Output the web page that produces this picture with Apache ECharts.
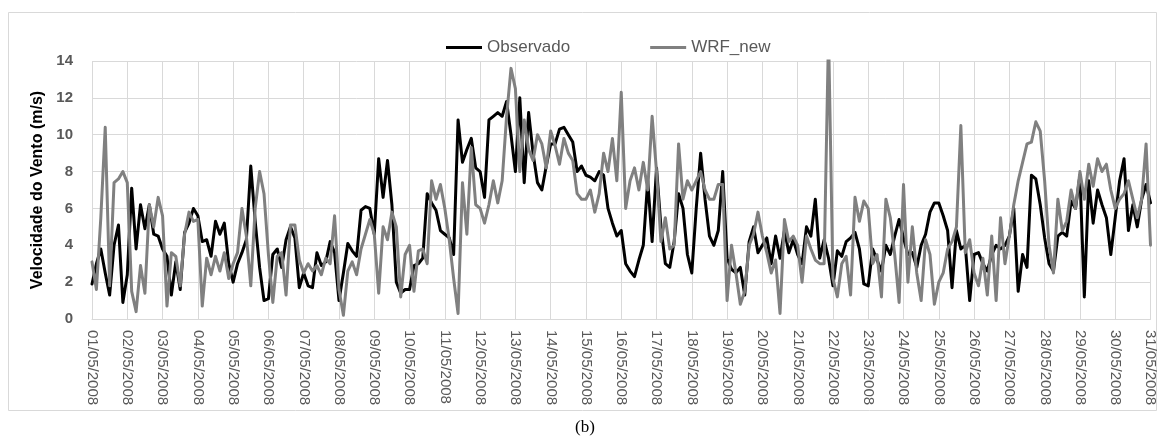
<!DOCTYPE html>
<html>
<head>
<meta charset="utf-8">
<script src="https://cdn.jsdelivr.net/npm/echarts@6/dist/echarts.min.js"></script>
</head>
<body style="margin:0">
<div id="container" style="width:1158px;height:443px"></div>
<script>
// tick labels (one per day)
var days = ['01/05/2008','02/05/2008','03/05/2008','04/05/2008','05/05/2008','06/05/2008','07/05/2008','08/05/2008',
  '09/05/2008','10/05/2008','11/05/2008','12/05/2008','13/05/2008','14/05/2008','15/05/2008','16/05/2008',
  '17/05/2008','18/05/2008','19/05/2008','20/05/2008','21/05/2008','22/05/2008','23/05/2008','24/05/2008',
  '25/05/2008','26/05/2008','27/05/2008','28/05/2008','29/05/2008','30/05/2008','31/05/2008'];
var hours = ['00:00','03:00','06:00','09:00','12:00','15:00','18:00','21:00'];

// wind speed (m/s), every 3 hours
var observado = [
  1.9, 3.0, 3.8, 2.5, 1.3, 4.0, 5.1, 0.9,
  2.4, 7.1, 3.8, 6.2, 4.9, 6.2, 4.6, 4.5,
  3.8, 3.4, 1.3, 3.1, 1.6, 4.7, 5.2, 6.0,
  5.6, 4.2, 4.3, 3.4, 5.3, 4.6, 5.2, 3.0,
  2.0, 3.0, 3.6, 4.3, 8.3, 5.3, 2.8, 1.0,
  1.1, 3.5, 3.8, 2.8, 4.3, 5.0, 4.4, 1.7,
  2.5, 1.8, 1.7, 3.6, 2.9, 3.1, 4.2, 3.6,
  1.0, 2.5, 4.1, 3.7, 3.4, 5.9, 6.1, 6.0,
  4.6, 8.7, 6.6, 8.6, 6.2, 2.0, 1.4, 1.6,
  1.6, 2.9, 3.0, 3.3, 6.8, 6.3, 5.9, 4.8,
  4.6, 4.4, 3.5, 10.8, 8.5, 9.2, 9.8, 8.2,
  8.0, 6.6, 10.8, 11.0, 11.2, 11.0, 11.8, 10.0,
  8.0, 12.0, 7.4, 11.2, 9.0, 7.4, 7.0, 8.3,
  9.5, 9.5, 10.3, 10.4, 10.0, 9.6, 8.0, 8.3,
  7.8, 7.7, 7.5, 8.0, 7.8, 6.0, 5.2, 4.5,
  4.8, 3.0, 2.6, 2.3, 3.2, 4.0, 7.5, 4.2,
  8.2, 5.0, 3.0, 2.8, 4.2, 6.8, 6.0, 3.5,
  2.5, 6.0, 9.0, 6.5, 4.5, 4.0, 4.8, 8.0,
  3.3, 2.7, 2.5, 2.8, 1.3, 4.2, 5.0, 3.6,
  4.0, 4.4, 3.0, 4.5, 3.3, 4.8, 3.6, 4.3,
  3.5, 3.0, 5.0, 4.5, 6.5, 3.3, 4.3, 3.3,
  1.8, 3.7, 3.4, 4.2, 4.4, 4.7, 3.8, 1.9,
  1.8, 3.8, 3.2, 2.6, 4.0, 3.5, 4.5, 5.4,
  4.4, 3.5, 3.6, 2.8, 4.0, 4.6, 5.8, 6.3,
  6.3, 5.6, 4.8, 1.7, 4.8, 3.8, 4.0, 1.0,
  3.5, 3.6, 3.0, 2.6, 3.5, 4.0, 3.8, 4.0,
  4.5, 6.0, 1.5, 3.5, 2.8, 7.8, 7.6, 6.2,
  4.4, 3.0, 2.6, 4.5, 4.7, 4.5, 6.4, 6.0,
  7.8, 1.2, 7.5, 5.2, 7.0, 6.2, 5.5, 3.5,
  5.5, 7.5, 8.7, 4.8, 6.2, 5.0, 6.5, 7.3,
  6.3
];
var wrfNew = [
  3.1, 1.6, 5.5, 10.4, 1.8, 7.4, 7.6, 8.0,
  7.4, 1.5, 0.4, 2.9, 1.4, 6.2, 5.0, 6.6,
  5.6, 0.7, 3.6, 3.4, 1.8, 4.6, 5.8, 5.3,
  5.4, 0.7, 3.3, 2.4, 3.4, 2.6, 3.6, 2.2,
  3.0, 3.6, 6.0, 4.5, 1.8, 6.0, 8.0, 6.8,
  3.5, 0.9, 3.4, 3.6, 1.3, 5.1, 5.1, 3.2,
  2.5, 3.0, 2.6, 2.9, 2.4, 3.3, 3.0, 5.6,
  1.6, 0.2, 2.6, 3.1, 2.4, 3.8, 4.6, 5.4,
  4.6, 1.4, 5.0, 4.3, 5.8, 5.0, 1.2, 3.5,
  4.0, 1.5, 3.7, 3.8, 3.0, 7.5, 6.5, 7.3,
  6.0, 4.3, 2.2, 0.3, 7.4, 4.6, 9.3, 6.2,
  6.0, 5.2, 6.2, 7.5, 6.3, 7.5, 11.0, 13.6,
  12.5, 8.0, 10.8, 9.2, 8.6, 10.0, 9.5, 8.2,
  10.2, 9.4, 8.4, 9.8, 9.0, 8.6, 6.8, 6.5,
  6.5, 7.0, 5.8, 6.8, 9.0, 8.0, 9.8, 7.5,
  12.3, 6.0, 7.5, 8.2, 7.0, 8.5, 7.0, 11.0,
  8.0, 4.2, 5.5, 3.8, 4.0, 9.5, 6.5, 7.5,
  7.0, 7.5, 8.0, 7.0, 6.5, 6.5, 7.3, 7.3,
  1.0, 4.0, 2.5, 0.8, 1.5, 4.0, 4.6, 5.8,
  4.5, 3.6, 2.5, 3.2, 0.3, 5.4, 4.2, 4.5,
  4.0, 2.0, 4.5, 3.8, 3.2, 3.0, 3.0, 15.5,
  2.2, 1.2, 3.0, 3.4, 1.3, 6.6, 5.3, 6.4,
  6.0, 3.0, 3.5, 1.2, 6.5, 5.5, 3.5, 0.9,
  7.3, 2.0, 5.0, 2.5, 1.0, 4.3, 3.5, 0.8,
  2.0, 2.5, 3.8, 4.2, 5.0, 10.5, 3.6, 4.3,
  2.5, 1.8, 3.3, 1.3, 4.5, 1.0, 5.5, 3.0,
  4.5, 6.2, 7.5, 8.5, 9.5, 9.6, 10.7, 10.2,
  7.5, 4.0, 2.5, 6.5, 4.8, 5.3, 7.0, 6.0,
  8.0, 6.5, 8.4, 7.2, 8.7, 8.0, 8.4, 7.0,
  6.0, 6.5, 6.8, 7.5, 6.5, 5.5, 6.5, 9.5,
  4.0
];

// category list: each day split in 3-hour steps, last day only at 00:00
var times = [];
for (var d = 0; d < days.length - 1; d++) {
  for (var h = 0; h < hours.length; h++) times.push(days[d] + ' ' + hours[h]);
}
times.push(days[days.length - 1] + ' ' + hours[0]);

var dom = document.getElementById('container');
var myChart = echarts.init(dom);
var gridCol = '#d9d9d9';
var textCol = '#595959';

var option = {
  animation: false,
  backgroundColor: '#ffffff',
  graphic: [{
    type: 'rect',
    shape: { x: 8.5, y: 12.5, width: 1148, height: 398 },
    style: { fill: 'none', stroke: gridCol, lineWidth: 1 }
  }, {
    type: 'text',
    left: 575, top: 419,
    style: { text: '(b)', font: '17px "Liberation Serif"', fill: '#000' }
  }],
  legend: {
    left: 441, top: 34,
    itemWidth: 36, itemHeight: 3, itemGap: 80,
    icon: 'rect',
    textStyle: { color: textCol, fontSize: 17, fontFamily: 'Liberation Sans' },
    data: ['Observado', 'WRF_new']
  },
  grid: { left: 92, right: 7, top: 61, bottom: 124 },
  xAxis: {
    type: 'category',
    data: times,
    boundaryGap: false,
    axisLine: { lineStyle: { color: gridCol } },
    axisTick: { show: false },
    axisLabel: {
      interval: 7, rotate: -90, margin: 11,
      color: textCol, fontSize: 15, fontFamily: 'Liberation Sans',
      formatter: function (v) { return v.slice(0, 10); }
    },
    splitLine: { show: true, interval: 7, lineStyle: { color: gridCol } }
  },
  yAxis: {
    type: 'value',
    min: 0, max: 14, interval: 2,
    name: 'Velocidade do Vento (m/s)',
    nameLocation: 'middle', nameGap: 46,
    nameTextStyle: { color: '#000', fontSize: 16, fontWeight: 'bold', fontFamily: 'Liberation Sans' },
    axisLine: { show: false },
    axisTick: { show: false },
    axisLabel: { margin: 19, color: textCol, fontSize: 15, fontWeight: 'bold', fontFamily: 'Liberation Sans' },
    splitLine: { lineStyle: { color: gridCol } }
  },
  series: [{
    name: 'Observado',
    type: 'line',
    data: observado,
    showSymbol: false,
    color: '#000000',
    lineStyle: { width: 3, cap: 'round', join: 'round' }
  }, {
    name: 'WRF_new',
    type: 'line',
    data: wrfNew,
    showSymbol: false,
    color: '#808080',
    lineStyle: { width: 3, cap: 'round', join: 'round' }
  }]
};
myChart.setOption(option);
</script>
</body>
</html>
